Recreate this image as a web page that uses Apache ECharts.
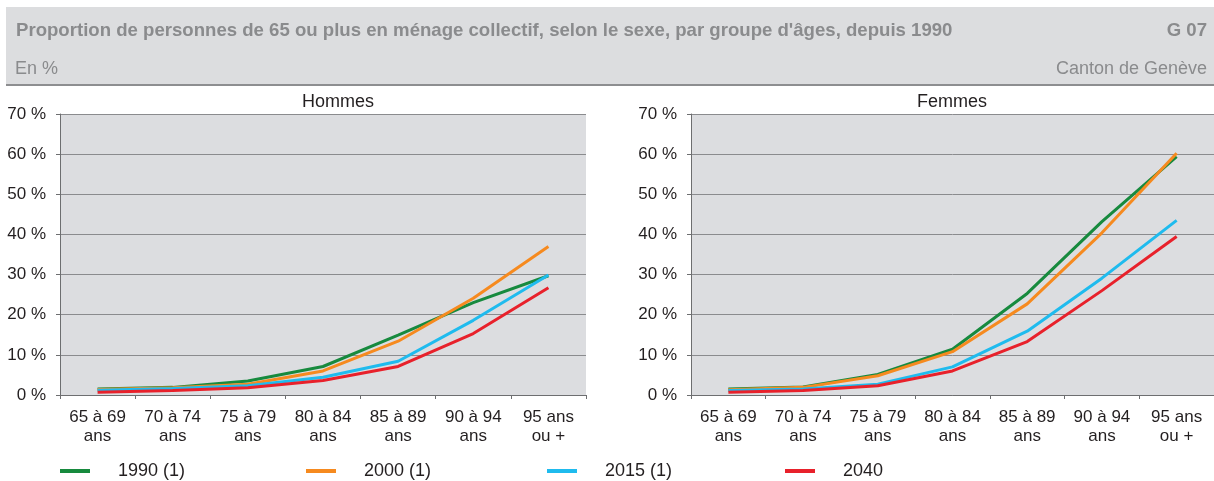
<!DOCTYPE html>
<html>
<head>
<meta charset="utf-8">
<script src="https://cdn.jsdelivr.net/npm/echarts@6/dist/echarts.min.js"></script>
<style>
  html, body { margin: 0; padding: 0; background: #fff; }
  #main { width: 1214px; height: 481px; }
</style>
</head>
<body>
<div id="main"></div>
<script>
const categories = ["65 à 69\nans", "70 à 74\nans", "75 à 79\nans", "80 à 84\nans", "85 à 89\nans", "90 à 94\nans", "95 ans\nou +"];
const yTicks = [0, 10, 20, 30, 40, 50, 60, 70];
const seriesNames = ["1990 (1)", "2000 (1)", "2015 (1)", "2040"];
const colors = ["#178a3e", "#f68a1f", "#1fbbee", "#e8212b"];

// Hommes
const hommes1990 = [1.5, 1.9, 3.5, 7.1, 14.9, 23.0, 29.7];
const hommes2000 = [1.4, 1.8, 2.7, 6.0, 13.4, 24.1, 37.0];
const hommes2015 = [1.2, 1.6, 2.3, 4.4, 8.4, 18.6, 29.9];
const hommes2040 = [0.7, 1.1, 1.8, 3.6, 7.1, 15.3, 26.7];

// Femmes
const femmes1990 = [1.5, 2.0, 5.1, 11.4, 25.3, 43.2, 59.4];
const femmes2000 = [1.3, 1.9, 4.8, 10.8, 22.7, 40.4, 60.2];
const femmes2015 = [1.1, 1.5, 2.7, 7.0, 15.9, 29.1, 43.5];
const femmes2040 = [0.7, 1.1, 2.3, 6.0, 13.3, 26.0, 39.5];

const chart = echarts.init(document.getElementById("main"));
const font = "Liberation Sans, Arial, sans-serif";
const gridColor = "#8a8b8e";

function xAxis(gridIndex) {
  return {
    type: "category",
    gridIndex: gridIndex,
    data: categories,
    axisLine: { lineStyle: { color: "#6d6e70", width: 1 } },
    axisTick: { show: true, length: 4, lineStyle: { color: "#6d6e70" } },
    axisLabel: { color: "#231f20", fontSize: 17, fontFamily: font, lineHeight: 19, margin: 13, interval: 0 }
  };
}

function yAxis(gridIndex) {
  return {
    type: "value",
    gridIndex: gridIndex,
    min: 0,
    max: 70,
    interval: 10,
    axisLine: { show: true, lineStyle: { color: "#6d6e70", width: 1 } },
    axisTick: { show: true, length: 4, lineStyle: { color: "#6d6e70" } },
    axisLabel: {
      color: "#231f20", fontSize: 17, fontFamily: font, margin: 14,
      formatter: v => (yTicks.includes(v) ? v + " %" : "")
    },
    splitLine: { lineStyle: { color: gridColor, width: 1 } }
  };
}

function line(name, data, i, axisIndex) {
  return {
    name: name,
    type: "line",
    xAxisIndex: axisIndex,
    yAxisIndex: axisIndex,
    data: data,
    symbol: "none",
    smooth: false,
    lineStyle: { width: 3, color: colors[i] },
    itemStyle: { color: colors[i] },
    emphasis: { disabled: true }
  };
}

const legendLefts = [55, 301, 542, 780];
const legends = seriesNames.map((n, i) => ({
  data: [n],
  left: legendLefts[i],
  top: 457,
  icon: "rect",
  itemWidth: 30,
  itemHeight: 4,
  selectedMode: false,
  textStyle: { color: "#231f20", fontSize: 18, fontFamily: font, padding: [0, 0, 0, 23] }
}));

const headStyle = (bold, size) => ({ color: "#8a8b8d", fontSize: size || 18, fontWeight: bold ? "bold" : "normal", fontFamily: font });

const option = {
  animation: false,
  backgroundColor: "#ffffff",
  graphic: [
    {
      type: "rect",
      shape: { x: 6, y: 7, width: 1214, height: 77 },
      style: { fill: "#dcdddf" },
      z: -10
    },
    {
      type: "rect",
      shape: { x: 6, y: 84, width: 1214, height: 2 },
      style: { fill: "#8d8e90" },
      z: -9
    }
  ],
  title: [
    {
      text: "Proportion de personnes de 65 ou plus en ménage collectif, selon le sexe, par groupe d'âges, depuis 1990",
      left: 11, top: 16,
      textStyle: headStyle(true, 18.6)
    },
    { text: "G 07", right: 2, top: 16, textStyle: headStyle(true, 18.6) },
    { text: "En %", left: 10, top: 55, textStyle: headStyle(false) },
    { text: "Canton de Genève", right: 2, top: 55, textStyle: headStyle(false) },
    {
      text: "Hommes",
      left: 333, top: 88, textAlign: "center",
      textStyle: { color: "#231f20", fontSize: 18, fontWeight: "normal", fontFamily: font }
    },
    {
      text: "Femmes",
      left: 947, top: 88, textAlign: "center",
      textStyle: { color: "#231f20", fontSize: 18, fontWeight: "normal", fontFamily: font }
    }
  ],
  legend: legends,
  grid: [
    { left: 60, top: 114, width: 526, height: 281, show: true, backgroundColor: "#dcdde0", borderWidth: 0 },
    { left: 691, top: 114, width: 525, height: 281, show: true, backgroundColor: "#dcdde0", borderWidth: 0 }
  ],
  xAxis: [xAxis(0), xAxis(1)],
  yAxis: [yAxis(0), yAxis(1)],
  series: [
    line(seriesNames[0], hommes1990, 0, 0),
    line(seriesNames[1], hommes2000, 1, 0),
    line(seriesNames[2], hommes2015, 2, 0),
    line(seriesNames[3], hommes2040, 3, 0),
    line(seriesNames[0], femmes1990, 0, 1),
    line(seriesNames[1], femmes2000, 1, 1),
    line(seriesNames[2], femmes2015, 2, 1),
    line(seriesNames[3], femmes2040, 3, 1)
  ]
};

chart.setOption(option);
</script>
</body>
</html>
